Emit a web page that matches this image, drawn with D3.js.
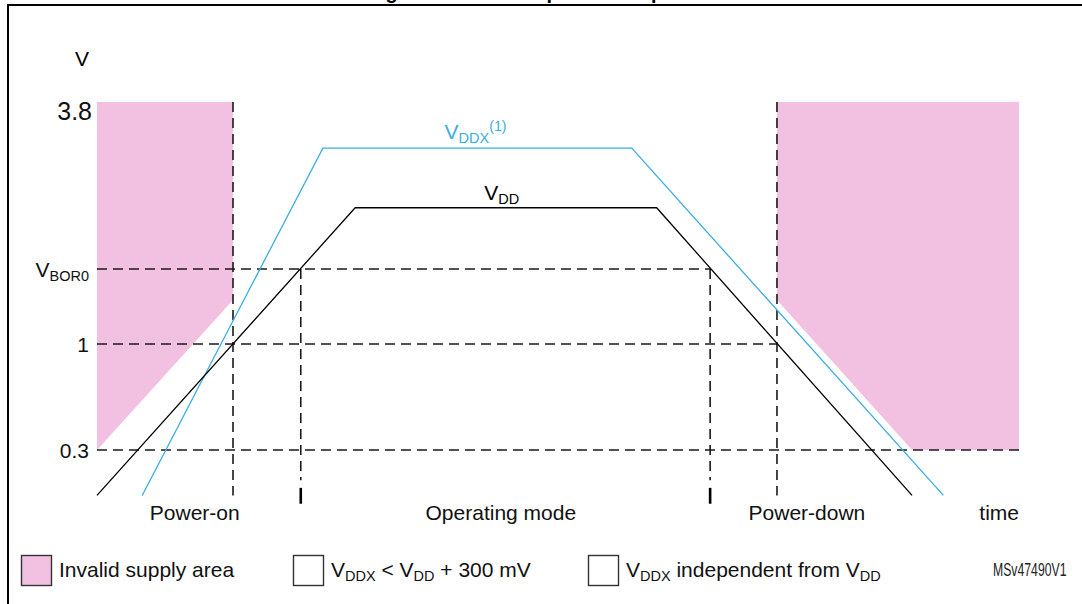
<!DOCTYPE html>
<html>
<head>
<meta charset="utf-8">
<script src="https://cdn.jsdelivr.net/npm/d3@7"></script>
<style>
  body { margin: 0; background: #fff; }
  svg { display: block; font-family: "Liberation Sans", Arial, sans-serif; }
</style>
</head>
<body>
<div id="chart"></div>
<script>
// time runs 0..100 (arbitrary units), voltages in V
const vddTime = [0, 28.0, 60.7, 88.4];
const vddVolt = [0, 2.47, 2.47, 0];
const vddxTime = [4.9, 24.5, 58.0, 91.8];
const vddxVolt = [0, 3.22, 3.22, 0];

// invalid supply areas (pink)
const invalidOnTime = [0, 14.75, 14.75, 0];
const invalidOnVolt = [3.8, 3.8, 1.41, 0.3];
const invalidOffTime = [73.75, 100, 100, 88.4, 73.75];
const invalidOffVolt = [3.8, 3.8, 0.3, 0.3, 1.41];

// voltage levels on the left
const levelValues = [3.8, 1.7, 1, 0.3];
const levelLabels = ["3.8", "V_{BOR0}", "1", "0.3"];
const guideLevels = [1.7, 1, 0.3];
const guideEnds = [66.5, 73.75, 100];

// vertical markers
const markerTimes = [14.75, 22.1, 66.5, 73.75];
const markerTops = [3.8, 1.7, 1.7, 3.8];
const phaseNames = ["Power-on", "Operating mode", "Power-down"];
const phaseCenters = [10.6, 43.8, 77.0];

const legendLabels = ["Invalid supply area", "V_{DDX} < V_{DD} + 300 mV", "V_{DDX} independent from V_{DD}"];
const legendFills = ["#f2c0e0", "#ffffff", "#ffffff"];

const W = 1082, H = 604;
const pink = "#f2c0e0", blue = "#3aaee2";

const svg = d3.select("#chart").append("svg")
    .attr("width", W)
    .attr("height", H);

let x = d3.scaleLinear().domain([0, 100]).range([97, 1019]);
let y = d3.scaleLinear().domain([0.3, 1, 1.7, 3.8]).range([450, 344, 269, 102]);

let zip = (ts, vs) => ts.map((t, i) => [x(t), y(vs[i])]);
let line = d3.line();

// text with _{sub} and ^{sup} parts
function richText (parent, str, size) {
    let t = parent.append("text").attr("font-size", size);
    let shift = 0;
    str.split(/(_\{[^}]*\}|\^\{[^}]*\})/).filter(s => s.length).forEach(s => {
        let target = 0, fs = size, txt = s;
        if (s[0] === "_") { target = 4; fs = size * 0.69; txt = s.slice(2, -1); }
        if (s[0] === "^") { target = -8; fs = size * 0.67; txt = s.slice(2, -1); }
        t.append("tspan").attr("dy", target - shift).attr("font-size", fs).text(txt);
        shift = target;
    });
    return t;
}

// title (cut off by the top of the picture)
svg.append("text")
    .attr("x", 541).attr("y", -1)
    .attr("text-anchor", "middle")
    .attr("font-size", 20).attr("font-weight", "bold")
    .text("Figure 10. Power-up/down sequence");

// frame
svg.append("path")
    .attr("d", "M8," + H + "V5H" + W)
    .attr("fill", "none").attr("stroke", "#000").attr("stroke-width", 2);

// pink areas
svg.append("path").attr("d", line(zip(invalidOnTime, invalidOnVolt)) + "Z").attr("fill", pink);
svg.append("path").attr("d", line(zip(invalidOffTime, invalidOffVolt)) + "Z").attr("fill", pink);

// dashed guides
let dash = "10,6";
svg.selectAll(".hguide")
    .data(guideLevels)
    .enter().append("line").classed("hguide", true)
    .attr("x1", x(0)).attr("x2", (d, i) => x(guideEnds[i]))
    .attr("y1", d => y(d)).attr("y2", d => y(d))
    .attr("stroke", "#1a1a1a").attr("stroke-width", 1.6).attr("stroke-dasharray", dash);

svg.selectAll(".vguide")
    .data(markerTimes)
    .enter().append("line").classed("vguide", true)
    .attr("x1", d => x(d)).attr("x2", d => x(d))
    .attr("y1", (d, i) => y(markerTops[i]))
    .attr("y2", (d, i) => markerTops[i] > 3 ? y(0) : y(0.1))
    .attr("stroke", "#1a1a1a").attr("stroke-width", 1.6).attr("stroke-dasharray", dash);

// solid ticks bounding the operating mode
svg.selectAll(".optick")
    .data(markerTimes.filter((d, i) => markerTops[i] < 3))
    .enter().append("line").classed("optick", true)
    .attr("x1", d => x(d)).attr("x2", d => x(d))
    .attr("y1", y(0.05)).attr("y2", y(-0.055))
    .attr("stroke", "#000").attr("stroke-width", 2.6);

// supply curves
svg.append("path")
    .attr("d", line(zip(vddxTime, vddxVolt)))
    .attr("fill", "none").attr("stroke", blue).attr("stroke-width", 1.3);
svg.append("path")
    .attr("d", line(zip(vddTime, vddVolt)))
    .attr("fill", "none").attr("stroke", "#000").attr("stroke-width", 1.3);

richText(svg, "V_{DDX}^{(1)}", 21)
    .attr("x", x(37.7)).attr("y", y(vddxVolt[1]) - 9)
    .attr("fill", blue);
richText(svg, "V_{DD}", 21)
    .attr("x", x(42.0)).attr("y", y(vddVolt[1]) - 8)
    .attr("fill", "#000");

// axis labels
svg.append("text")
    .attr("x", 82).attr("y", 66)
    .attr("text-anchor", "middle")
    .attr("font-size", 21)
    .text("V");

levelValues.forEach((v, i) => {
    let top = v === d3.max(levelValues);
    richText(svg, levelLabels[i], top ? 25 : 21)
        .attr("x", top ? 92 : 89)
        .attr("y", top ? y(v) + 18 : y(v) + 7.5)
        .attr("text-anchor", "end")
        .attr("fill", "#111");
});

// phase labels
svg.selectAll(".phase")
    .data(phaseNames)
    .enter().append("text").classed("phase", true)
    .attr("x", (d, i) => x(phaseCenters[i]))
    .attr("y", 520)
    .attr("text-anchor", "middle")
    .attr("font-size", 21)
    .attr("fill", "#111")
    .text(d => d);

svg.append("text")
    .attr("x", x(100)).attr("y", 520)
    .attr("text-anchor", "end")
    .attr("font-size", 21)
    .attr("fill", "#111")
    .text("time");

// legend
let legendX = [21, 293, 588];
legendLabels.forEach((lab, i) => {
    let g = svg.append("g").attr("transform", "translate(" + legendX[i] + ",555)");
    g.append("rect")
        .attr("x", 0.5).attr("y", 0.5)
        .attr("width", 30).attr("height", 30)
        .attr("fill", legendFills[i])
        .attr("stroke", "#333").attr("stroke-width", 1.4);
    richText(g, lab, 21)
        .attr("x", 38).attr("y", 22)
        .attr("fill", "#111");
});

// narrow reference code, squeezed horizontally
svg.append("text")
    .attr("transform", "translate(993,576) scale(0.7,1)")
    .attr("font-size", 17.5)
    .attr("fill", "#222")
    .text("MSv47490V1");
</script>
</body>
</html>
